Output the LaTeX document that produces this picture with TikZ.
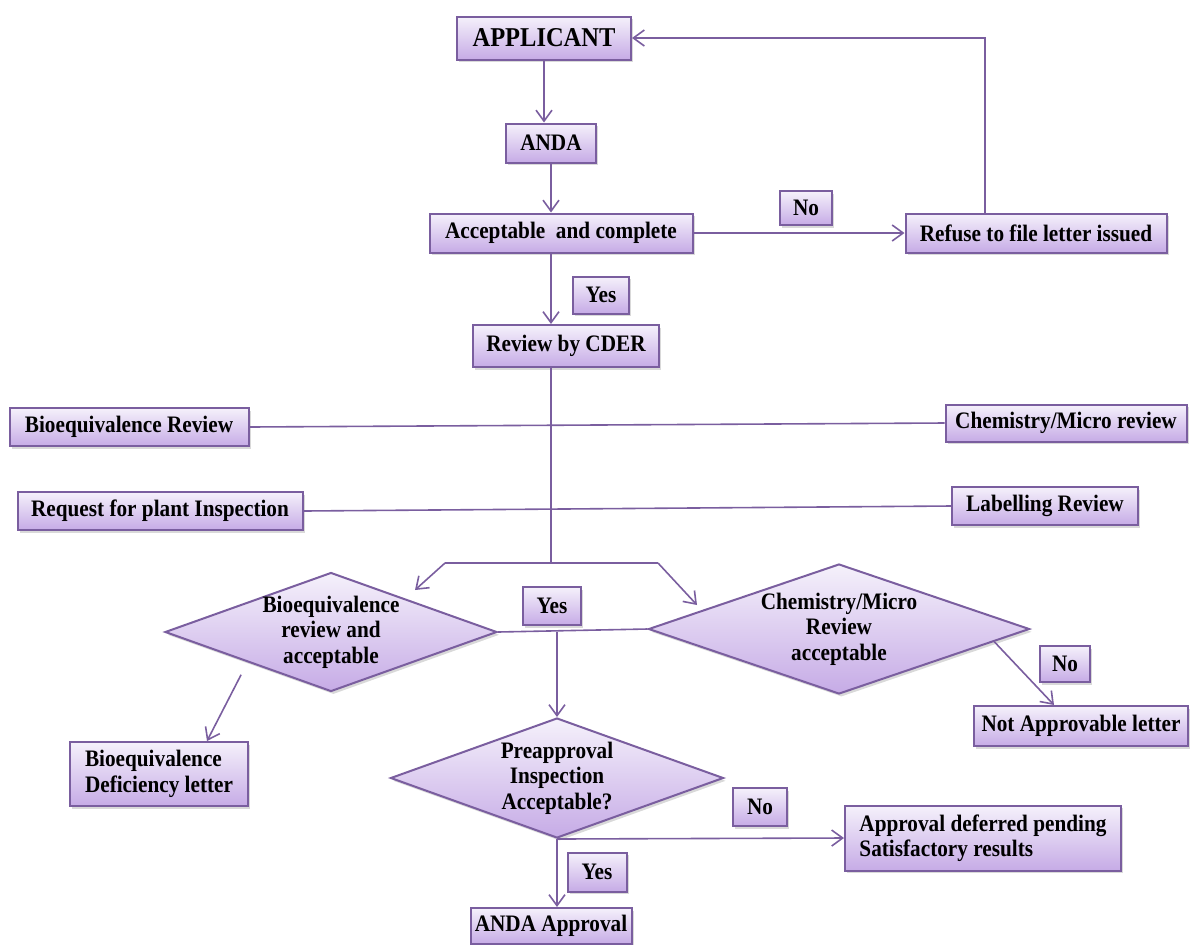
\documentclass[tikz,border=0pt]{standalone}
\usepackage{fontspec}
\setmainfont{Liberation Serif}[FakeStretch=0.9]
\usetikzlibrary{shapes.geometric,shadows,arrows.meta,calc}

\definecolor{flowline}{HTML}{7A5E9F}
\definecolor{flowtop}{HTML}{F5F1FB}
\definecolor{flowbot}{HTML}{C6ABE6}

\tikzset{
  box/.style={draw=flowline, line width=1pt, top color=flowtop, bottom color=flowbot,
    drop shadow={shadow xshift=1.2pt, shadow yshift=-1.4pt, opacity=0.3},
    font=\fontsize{11.8}{12.7}\selectfont\bfseries, align=center, inner sep=2pt},
  dia/.style={box, diamond, aspect=2.8, inner sep=-3pt},
  sz/.style 2 args={minimum width=#1, minimum height=#2},
  link/.style={draw=flowline, line width=0.8pt},
  arr/.style={link, -{Straight Barb[length=5.5pt,width=8pt]}}
}

\begin{document}
\begin{tikzpicture}[x=0.5pt,y=-0.5pt]
 \useasboundingbox (0,0) rectangle (1194,944);

 \node[box, sz={87pt}{21.5pt}, font=\fontsize{13.6}{15}\selectfont\bfseries] (app) at (544,38) {APPLICANT};
 \node[box, sz={45pt}{19.5pt}] (anda) at (551,143) {ANDA};
 \node[box, sz={131.5pt}{19.5pt}] (acc) at (561,233) {Acceptable\ \ and complete};
 \node[box, sz={26pt}{17pt}] (no1) at (806,208) {No};
 \node[box, sz={130.5pt}{19.5pt}] (refuse) at (1036,233) {Refuse to file letter issued};
 \node[box, sz={28pt}{18.5pt}] (yes1) at (601,295) {Yes};
 \node[box, sz={93pt}{21pt}] (cder) at (566,346) {Review by CDER};

 \node[box, sz={119.5pt}{19pt}] (bereview) at (129,427) {Bioequivalence Review};
 \node[box, sz={120.5pt}{18.5pt}] (chemreview) at (1066,423) {Chemistry/Micro review};
 \node[box, sz={142.5pt}{19pt}] (plant) at (160,511) {Request for plant Inspection};
 \node[box, sz={93pt}{19pt}] (label) at (1045,506) {Labelling Review};

 \node[dia, sz={166pt}{59.5pt}] (bedia) at (331,632) {Bioequivalence\\review and\\acceptable};
 \node[dia, sz={190.5pt}{65pt}] (chemdia) at (839,629) {Chemistry/Micro\\Review\\acceptable};
 \node[box, sz={29pt}{19pt}] (yes2) at (552,606) {Yes};
 \node[dia, sz={166.5pt}{60pt}] (predia) at (557,778) {Preapproval\\Inspection\\Acceptable?};

 \node[box, sz={89pt}{32pt}, align=left] (defic) at (159,774) {Bioequivalence\\Deficiency letter};
 \node[box, sz={25pt}{18pt}] (no2) at (1065,664) {No};
 \node[box, sz={107pt}{20pt}] (notappr) at (1081,726) {Not Approvable letter};
 \node[box, sz={27pt}{19pt}] (no3) at (760,807) {No};
 \node[box, sz={138pt}{32.5pt}, align=left] (defer) at (983,838) {Approval deferred pending\\Satisfactory results};
 \node[box, sz={29.5pt}{19.5pt}] (yes3) at (597,872) {Yes};
 \node[box, sz={80.5pt}{18pt}] (andaappr) at (551,926) {ANDA Approval};

 \coordinate (ret) at ([xshift=-25.5pt]refuse.north);
 \coordinate (split) at (551,563);
 \coordinate (sl) at (445,563);
 \coordinate (sr) at (658,563);
 \coordinate (bein) at (415,590);
 \coordinate (chemin) at (697,605);

 \draw[arr] (app.south) -- (app.south |- anda.north);
 \draw[arr] (anda.south) -- (anda.south |- acc.north);
 \draw[arr] (acc.east) -- (refuse.west);
 \draw[arr] (ret) |- (app.east);
 \draw[arr] (anda.south |- acc.south) -- (anda.south |- cder.north);

 \draw[link] (cder.south -| split) -- (split);
 \draw[link] (bereview.east) -- (chemreview.west);
 \draw[link] (plant.east) -- (label.west);
 \draw[link] (sl) -- (sr);
 \draw[arr] (sl) -- (bein);
 \draw[arr] (sr) -- (chemin);

 \draw[link] (bedia.east) -- (chemdia.west);
 \draw[arr] (predia.north |- bedia.east) -- (predia.north);
 \draw[arr, shorten <=7pt] (bedia.south west) -- ([xshift=24pt]defic.north);
 \draw[arr] ($(chemdia.east)!0.19!(chemdia.south)$) -- ([xshift=-13.5pt]notappr.north);

 \draw[arr] (predia.south) -- (defer.west);
 \draw[arr] (predia.south) -- (predia.south |- andaappr.north);

\end{tikzpicture}
\end{document}
